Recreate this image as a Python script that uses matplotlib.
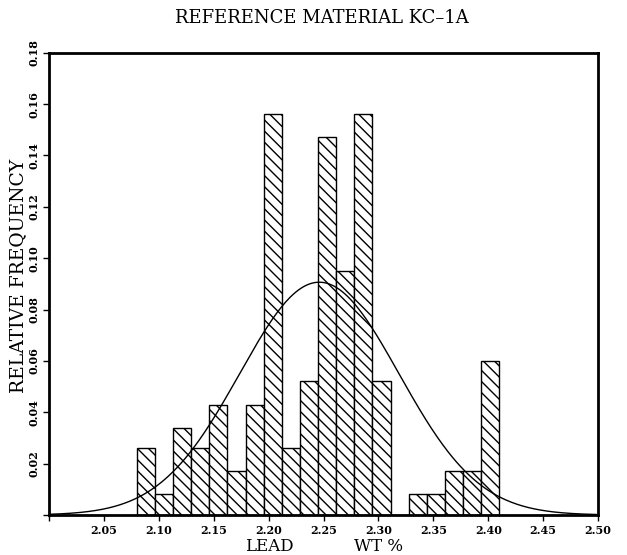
import matplotlib.pyplot as plt
import numpy as np

# histogram of lead content, wt %
bin_start = 2.08
bin_width = 0.0165
rel_freq = [0.026, 0.008, 0.034, 0.026, 0.043, 0.017, 0.043, 0.156, 0.026, 0.052,
            0.147, 0.095, 0.156, 0.052, 0.0, 0.008, 0.008, 0.017, 0.017, 0.060]
xticks = [2.05, 2.10, 2.15, 2.20, 2.25, 2.30, 2.35, 2.40, 2.45, 2.50]
yticks = [0.02, 0.04, 0.06, 0.08, 0.10, 0.12, 0.14, 0.16, 0.18]

plt.rcParams["hatch.linewidth"] = 1.0

edges = bin_start + bin_width * np.arange(len(rel_freq))
freq = np.array(rel_freq)
centers = edges + bin_width / 2

# normal curve fitted to the binned data, scaled to bin width
mean = np.sum(centers * freq) / freq.sum()
sd = np.sqrt(np.sum(freq * (centers - mean) ** 2) / freq.sum())
xs = np.linspace(2.0, 2.5, 400)
ys = bin_width * np.exp(-0.5 * ((xs - mean) / sd) ** 2) / (sd * np.sqrt(2 * np.pi))

fig = plt.figure(figsize=(6.27, 5.55), dpi=100)
ax = fig.add_axes([0.078, 0.072, 0.876, 0.833])

ax.bar(edges, freq, width=bin_width, align="edge", color="white",
       edgecolor="black", linewidth=1.0, hatch="\\\\\\", zorder=2)
ax.plot(xs, ys, color="black", linewidth=1.0, zorder=3)

ax.set_xlim(2.0, 2.5)
ax.set_ylim(0, 0.18)
ax.set_xticks([2.0] + xticks)
ax.set_xticklabels([""] + ["%.2f" % t for t in xticks],
                   fontsize=8, fontweight="bold", family="DejaVu Serif")
ax.set_yticks([0.0] + yticks)
ax.set_yticklabels([""] + ["%.2f" % t for t in yticks],
                   fontsize=8, fontweight="bold", family="DejaVu Serif",
                   rotation=90, va="center")
ax.tick_params(direction="out", length=4, width=1.0, pad=3)

for side in ["left", "right", "top", "bottom"]:
    ax.spines[side].set_linewidth(2.0)

fig.text(0.514, 0.968, "REFERENCE MATERIAL KC\u20131A", ha="center", va="center",
         fontsize=13, family="DejaVu Serif")
fig.text(0.029, 0.503, "RELATIVE FREQUENCY", ha="center", va="center",
         rotation=90, fontsize=13.5, family="DejaVu Serif")
fig.text(0.429, 0.016, "LEAD", ha="center", va="center",
         fontsize=12, family="DejaVu Serif")
fig.text(0.603, 0.016, "WT %", ha="center", va="center",
         fontsize=12, family="DejaVu Serif")

fig.savefig("out.png", dpi=100)
